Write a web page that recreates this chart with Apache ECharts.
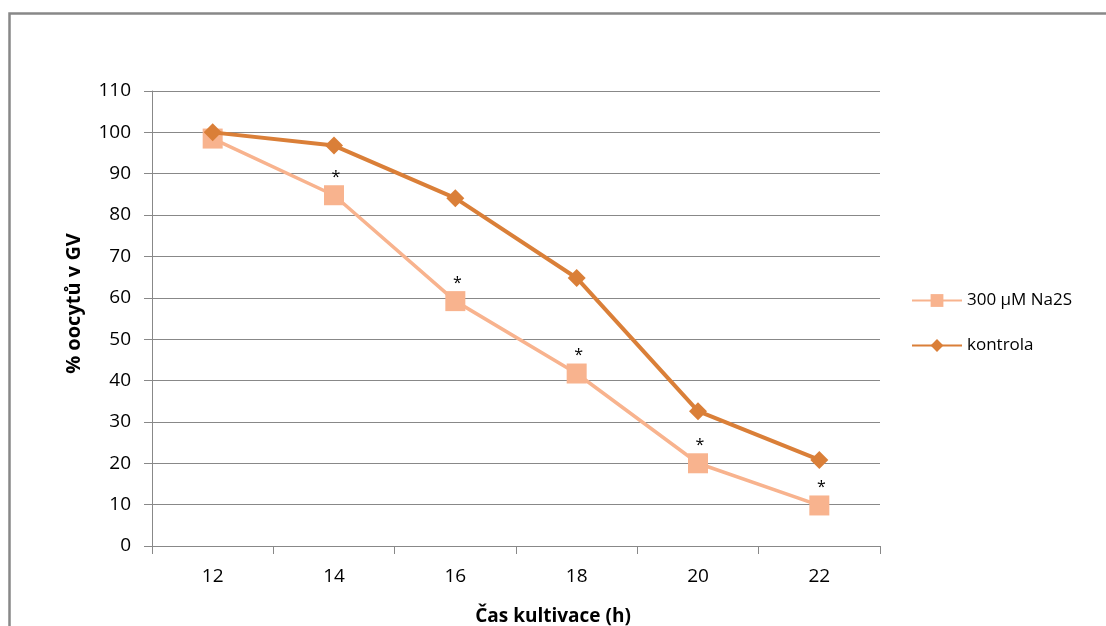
<!DOCTYPE html>
<html>
<head>
<meta charset="utf-8">
<script src="https://cdn.jsdelivr.net/npm/echarts@6/dist/echarts.min.js"></script>
<style>html,body{margin:0;padding:0;background:#fff}#c{width:1106px;height:626px}</style>
</head>
<body>
<div id="c"></div>
<script>
const categories = ['12', '14', '16', '18', '20', '22'];
const na2s = [98.5, 84.8, 59.2, 41.7, 20, 9.8];
const kontrola = [100, 96.8, 84.1, 64.8, 32.6, 20.8];
const significance = ['', '*', '*', '*', '*', '*'];
const seriesNames = ['300 µM Na2S', 'kontrola'];
const xTitle = 'Čas kultivace (h)';
const yTitle = '% oocytů v GV';

const FONT = '"Open Sans", "DejaVu Sans", sans-serif';
const chart = echarts.init(document.getElementById('c'), null, {renderer: 'canvas'});
chart.setOption({
  backgroundColor: '#fff',
  animation: false,
  graphic: [{
    type: 'rect', left: 7, top: 11,
    shape: {width: 1200, height: 700},
    style: {fill: 'none', stroke: '#888', lineWidth: 2.5}
  }],
  grid: {left: 152, right: 226, top: 91, bottom: 80, containLabel: false, outerBoundsMode: 'none'},
  legend: {
    orient: 'vertical', left: 906, top: 287,
    itemWidth: 50, itemHeight: 16, itemGap: 28,
    textStyle: {fontFamily: FONT, fontSize: 17, color: '#000'},
    data: seriesNames
  },
  xAxis: {
    type: 'category', data: categories, boundaryGap: true,
    name: xTitle, nameLocation: 'middle', nameGap: 61,
    nameTextStyle: {fontFamily: FONT, fontSize: 19, fontWeight: 'bold', color: '#000', padding: [0, 0, 0, 74]},
    axisLine: {lineStyle: {color: '#888', width: 1}},
    axisTick: {show: true, length: 8, lineStyle: {color: '#888'}},
    axisLabel: {fontFamily: FONT, fontSize: 19, color: '#000', margin: 21},
    splitLine: {show: false}
  },
  yAxis: {
    type: 'value', min: 0, max: 110, interval: 10,
    name: yTitle, nameLocation: 'middle', nameGap: 68, nameRotate: 90,
    nameTextStyle: {fontFamily: FONT, fontSize: 20, fontWeight: 'bold', color: '#000', padding: [0, 0, 0, 30]},
    axisLine: {show: true, lineStyle: {color: '#888', width: 1}},
    axisTick: {show: true, length: 8, lineStyle: {color: '#888'}},
    axisLabel: {fontFamily: FONT, fontSize: 19, color: '#000', margin: 21},
    splitLine: {show: true, lineStyle: {color: '#888', width: 1}}
  },
  series: [
    {
      name: seriesNames[0], type: 'line', data: na2s,
      symbol: 'rect', symbolSize: 20,
      lineStyle: {color: '#F8B38E', width: 3.5},
      itemStyle: {color: '#F8B38E'},
      label: {
        show: true, position: 'top', distance: 0, offset: [2, 0],
        fontFamily: FONT, fontSize: 16, color: '#000',
        formatter: p => significance[p.dataIndex]
      },
      z: 2
    },
    {
      name: seriesNames[1], type: 'line', data: kontrola,
      symbol: 'diamond', symbolSize: 18,
      lineStyle: {color: '#DA7F38', width: 4},
      itemStyle: {color: '#DA7F38'},
      z: 3
    }
  ]
});
</script>
</body>
</html>
